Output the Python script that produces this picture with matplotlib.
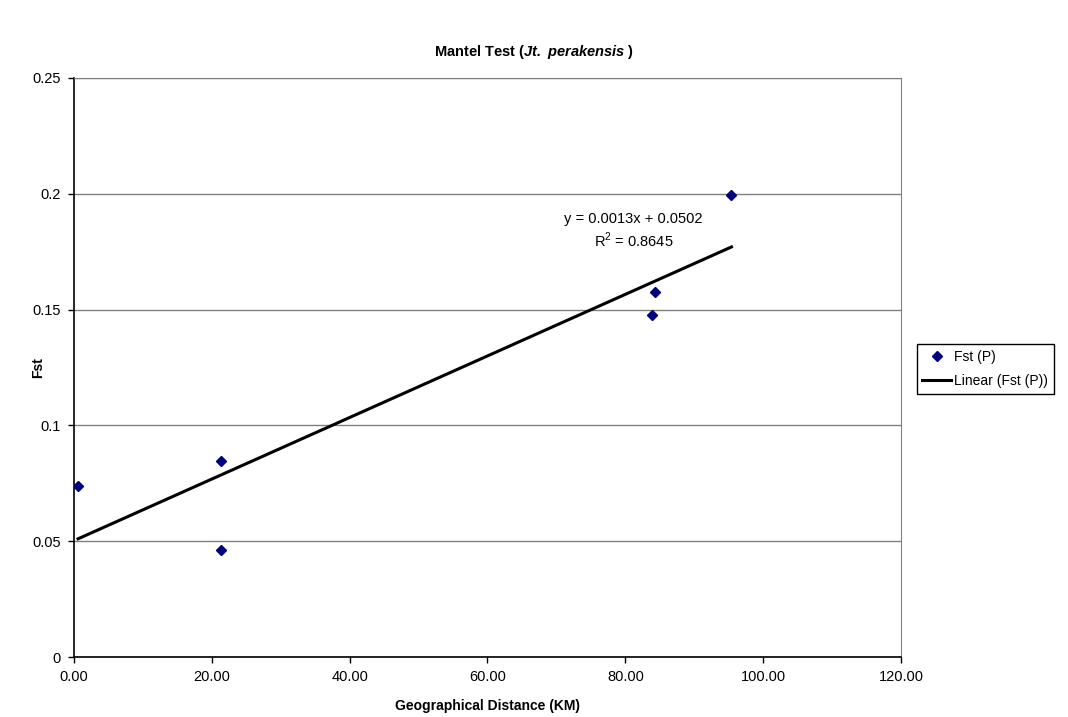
import matplotlib.pyplot as plt
import numpy as np

plt.rcParams['font.family'] = ['Liberation Sans', 'DejaVu Sans']
plt.rcParams['mathtext.fontset'] = 'custom'
plt.rcParams['mathtext.rm'] = 'Liberation Sans'
plt.rcParams['mathtext.bfit'] = 'Liberation Sans:italic:bold'

# distance (km) vs Fst
distance = [0.58, 21.4, 21.3, 95.4, 84.3, 83.9]
fst = [0.0739, 0.0848, 0.0463, 0.1994, 0.1576, 0.1475]

x_ticks = [0, 20, 40, 60, 80, 100, 120]
y_ticks = [0, 0.05, 0.1, 0.15, 0.2, 0.25]
y_tick_labels = ['0', '0.05', '0.1', '0.15', '0.2', '0.25']

fig = plt.figure(figsize=(10.68, 7.17), dpi=100)
ax = fig.add_axes([0.0693, 0.0833, 0.7743, 0.8082])

x = np.array(distance)
y = np.array(fst)
fit = np.polyfit(x, y, 1)
fit_fn = np.poly1d(fit)
xs = np.array([x.min(), x.max()])

ax.plot(x, y, linestyle='none', marker='D', color='#000080', markersize=5.5,
        label='Fst (P)', zorder=3)
ax.plot(xs, fit_fn(xs), color='black', linewidth=2.2, label='Linear (Fst (P))', zorder=2)

ax.set_xlim(0, 120)
ax.set_ylim(0, 0.25)
ax.set_xticks(x_ticks)
ax.set_xticklabels([f'{t:.2f}' for t in x_ticks])
ax.set_yticks(y_ticks)
ax.set_yticklabels(y_tick_labels)
ax.tick_params(direction='out', length=4.5, width=1, labelsize=10.5, colors='black', pad=5)
ax.yaxis.grid(True, color='#808080', linewidth=1)
ax.set_axisbelow(True)

for s in ['top', 'right']:
    ax.spines[s].set_color('#808080')
for s in ['left', 'bottom']:
    ax.spines[s].set_color('black')
    ax.spines[s].set_linewidth(1.2)

ax.text(81.2, 0.1838, 'y = 0.0013x + 0.0502\nR$^2$ = 0.8645', ha='center', va='center',
        multialignment='center', fontsize=10.5, linespacing=1.3)

ax.set_xlabel('Geographical Distance (KM)', fontsize=10, fontweight='bold')
ax.xaxis.set_label_coords(0.5, -0.072)
ax.set_ylabel('Fst', fontsize=10, fontweight='bold')
ax.yaxis.set_label_coords(-0.035, 0.5)

fig.text(0.5, 0.928, r'Mantel Test ($\mathbfit{Jt.}$ $\mathbfit{perakensis}$ )', ha='center',
         va='center', fontsize=10.5, fontweight='bold')

leg = ax.legend(loc='center left', bbox_to_anchor=(1.019, 0.4975), frameon=True, fancybox=False,
                fontsize=10, handlelength=2.1, handletextpad=0.2, borderpad=0.4,
                labelspacing=0.75, borderaxespad=0, edgecolor='black', framealpha=1)
leg.get_frame().set_linewidth(1)

fig.savefig('out.png', dpi=100)
